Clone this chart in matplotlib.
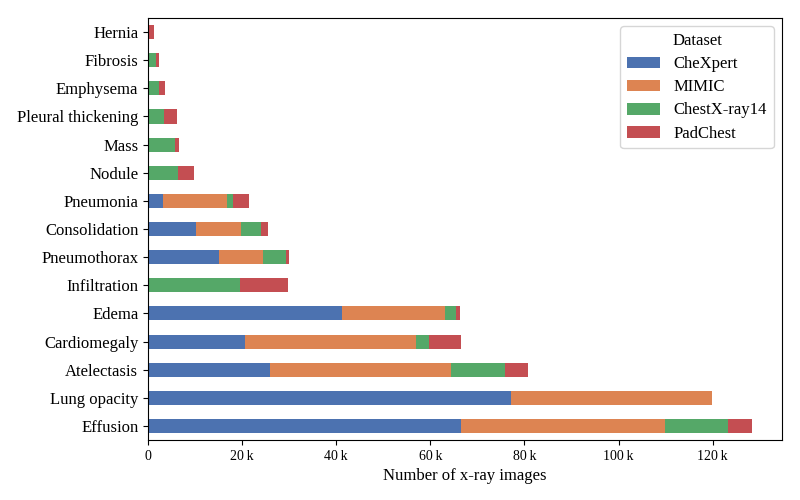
import matplotlib
matplotlib.use('Agg')
import matplotlib.pyplot as plt
import numpy as np
from matplotlib.ticker import FuncFormatter

# Data (images per finding), bottom to top
findings = ['Effusion', 'Lung opacity', 'Atelectasis', 'Cardiomegaly', 'Edema',
            'Infiltration', 'Pneumothorax', 'Consolidation', 'Pneumonia', 'Nodule',
            'Mass', 'Pleural thickening', 'Emphysema', 'Fibrosis', 'Hernia']
datasets = ['CheXpert', 'MIMIC', 'ChestX-ray14', 'PadChest']
chexpert = [66500, 77100, 25900, 20600, 41300, 0, 15000, 10300, 3200, 0, 0, 0, 0, 0, 0]
mimic = [43400, 42800, 38500, 36400, 21800, 0, 9400, 9400, 13500, 0, 0, 0, 0, 0, 0]
chestxray14 = [13300, 0, 11500, 2800, 2300, 19500, 5000, 4400, 1400, 6300, 5700, 3300, 2400, 1700, 200]
padchest = [5100, 0, 4900, 6800, 800, 10300, 500, 1400, 3400, 3400, 800, 2800, 1200, 600, 1100]

colors = ['#4C72B0', '#DD8452', '#55A868', '#C44E52']

plt.rcParams['font.family'] = ['Liberation Serif', 'DejaVu Serif']

fig, ax = plt.subplots(figsize=(8, 5), dpi=100)
fig.subplots_adjust(left=0.185, right=0.9775, top=0.964, bottom=0.12)

y = np.arange(len(findings))
left = np.zeros(len(findings))
for name, vals, c in zip(datasets, [chexpert, mimic, chestxray14, padchest], colors):
    vals = np.array(vals, dtype=float)
    ax.barh(y, vals, height=0.5, left=left, color=c, label=name)
    left += vals

ax.set_yticks(y)
ax.set_yticklabels(findings, fontsize=12)
ax.set_ylim(-0.5, len(findings) - 0.5)
ax.set_xlim(0, left.max() * 1.05)
ax.xaxis.set_major_formatter(FuncFormatter(lambda v, p: '0' if v == 0 else f'{v/1000:.0f}\u2009k'))
ax.tick_params(axis='x', labelsize=10)
ax.set_xlabel('Number of x-ray images', fontsize=12)

ax.legend(title='Dataset', fontsize=12, title_fontsize=12, loc='upper right',
          labelspacing=0.43)

plt.savefig('out.png', dpi=100)
